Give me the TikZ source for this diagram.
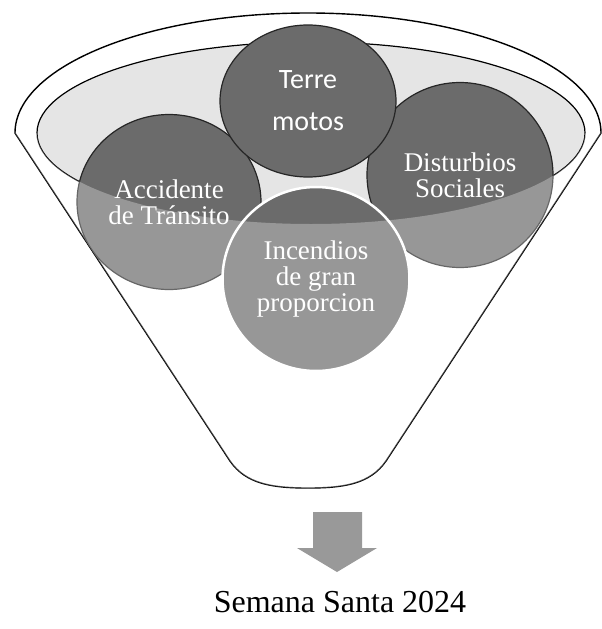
\documentclass[tikz,border=0pt]{standalone}
\usepackage{fontspec}
\setmainfont{Liberation Serif}
\newfontfamily\calibfont{Carlito}
\usetikzlibrary{shapes.geometric}
\begin{document}
\begin{tikzpicture}[x=1pt,y=-1pt,
  ball/.style={ellipse, inner sep=0pt, fill=black!58, draw=black!85, line width=1.2pt,
    text=white, align=center, font=\fontsize{27}{26}\selectfont},
  rim/.style={draw=black, line width=1.4pt},
]
\useasboundingbox (0,0) rectangle (602,629);
% funnel body and back rim
\path[rim, fill=white] (15,133) arc[start angle=180,end angle=360,x radius=293,y radius=120]
  -- (386,461) .. controls (370,484) and (344,488) .. (308,488)
  .. controls (272,488) and (246,484) .. (230,461) -- cycle;
% inner opening
\path[draw=black, line width=1.2pt, fill=black!10] (311,133) ellipse [x radius=274, y radius=91];
% balls
\node[ball, minimum width=184pt, minimum height=175pt] (acc) at (169,202) {Accidente\\de Tránsito};
\node[ball, minimum width=186pt, minimum height=185pt] (dis) at (460,175) {Disturbios\\Sociales};
\node[ball, minimum width=176pt, minimum height=152pt, font=\calibfont\fontsize{28}{42}\selectfont] (ter) at (308,101) {Terre\\motos};
\node[ball, draw=white, line width=2.5pt, minimum width=187pt, minimum height=184pt] (inc) at (316,279) {Incendios\\de gran\\proporcion};
% translucent front of the funnel
\fill[white, opacity=0.3] (15,133) -- (37,133) arc[start angle=180, end angle=0, x radius=274, y radius=91]
  -- (601,133) -- (386,461) .. controls (370,484) and (344,488) .. (308,488)
  .. controls (272,488) and (246,484) .. (230,461) -- cycle;
% arrow
\fill[black!40] (313,512) -- (362,512) -- (362,548) -- (377,548) -- (337,572) -- (297,548) -- (313,548) -- cycle;
% result
\node[anchor=base, font=\fontsize{32}{36}\selectfont] (res) at (340,612) {Semana Santa 2024};
\end{tikzpicture}
\end{document}
